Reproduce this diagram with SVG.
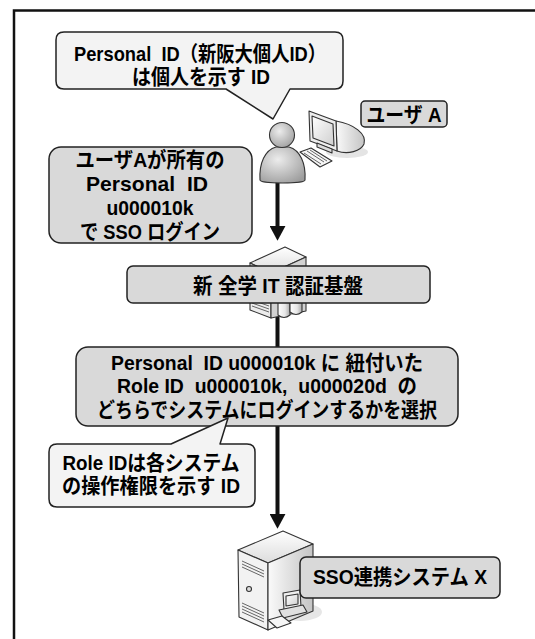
<svg xmlns="http://www.w3.org/2000/svg" width="535" height="639" viewBox="0 0 535 639">
<style>
  text { font-family: "Liberation Sans", "Noto Sans CJK JP", sans-serif; font-weight: bold; font-size: 21px; fill: #000; text-anchor: middle; white-space: pre; }
  .box { fill: #d9d9d9; stroke: #222; stroke-width: 1.5; }
  .note { fill: #f3f3f3; stroke: #222; stroke-width: 1.5; stroke-linejoin: round; }
  .wire { stroke: #111; stroke-width: 4; fill: none; }
  .frame { stroke: #111; stroke-width: 2.5; fill: none; }
  .edge { stroke: #333; stroke-width: 1.1; stroke-linejoin: round; }
  .thin { stroke: #555; stroke-width: 0.9; fill: none; }
</style>
<defs>
  <marker id="arrowhead" markerUnits="userSpaceOnUse" markerWidth="16" markerHeight="16" viewBox="0 0 15 15" refX="1" refY="7.5" orient="auto">
    <path d="M0,0 L14,7.5 L0,15 Z" fill="#111"/>
  </marker>
  <radialGradient id="personFill" cx="0.4" cy="0.35" r="0.75">
    <stop offset="0" stop-color="#ececec"/>
    <stop offset="1" stop-color="#9c9c9c"/>
  </radialGradient>
  <linearGradient id="metalSide" x1="0" y1="0" x2="1" y2="0">
    <stop offset="0" stop-color="#fafafa"/>
    <stop offset="1" stop-color="#c4c4c4"/>
  </linearGradient>
  <linearGradient id="metalTop" x1="0" y1="0" x2="0" y2="1">
    <stop offset="0" stop-color="#ffffff"/>
    <stop offset="1" stop-color="#dcdcdc"/>
  </linearGradient>
  <linearGradient id="screenFill" x1="0" y1="0" x2="1" y2="1">
    <stop offset="0" stop-color="#ffffff"/>
    <stop offset="1" stop-color="#cfcfcf"/>
  </linearGradient>
  <linearGradient id="drum" x1="0" y1="0" x2="1" y2="0">
    <stop offset="0" stop-color="#ffffff"/>
    <stop offset="0.6" stop-color="#e6e6e6"/>
    <stop offset="1" stop-color="#a8a8a8"/>
  </linearGradient>
</defs>

<!-- outer frame (top and left edges) -->
<path class="frame" d="M14,639 V10.5 H535"/>

<!-- connectors -->
<g id="connectors">
  <line class="wire" x1="277.5" y1="182" x2="277.5" y2="227" marker-end="url(#arrowhead)"/>
  <line class="wire" x1="277.5" y1="312" x2="277.5" y2="515" marker-end="url(#arrowhead)"/>
</g>

<!-- callout: Personal ID -->
<g id="note-personal-id">
  <path class="note" d="M64,32 H335 Q343,32 343,40 V81 Q343,89 335,89 H290 L273,119 L226,89 H64 Q56,89 56,81 V40 Q56,32 64,32 Z"/>
  <text x="200" y="61" textLength="252" lengthAdjust="spacingAndGlyphs" xml:space="preserve">Personal  ID（新阪大個人ID）</text>
  <text x="201" y="84" textLength="138" lengthAdjust="spacingAndGlyphs" xml:space="preserve">は個人を示す ID</text>
</g>

<!-- user A with workstation -->
<g id="user-a">
  <ellipse cx="347" cy="152" rx="21" ry="6" fill="#e4e4e4"/>
  <!-- CRT back -->
  <path class="edge" d="M336,121 C354,124 367,134 364,144 C361,151 348,155 337,151 Z" fill="url(#metalSide)"/>
  <!-- bezel -->
  <path class="edge" d="M309,111 L336,121 L337,151 L310,141 Z" fill="#ededed"/>
  <path class="edge" d="M312,116 L333,124 L334,146 L313,138 Z" fill="url(#screenFill)"/>
  <path class="edge" d="M317,143 L332,149 L332,153 L317,147 Z" fill="#dcdcdc"/>
  <!-- keyboard -->
  <path class="edge" d="M300,152 L311,148 L332,161 L320,167 Z" fill="#f6f6f6"/>
  <path class="thin" d="M304,153 L321,164 M307,151 L324,162 M310,150 L327,161"/>
  <!-- person -->
  <path class="edge" d="M260,180 C259,163 265,150 276,147 L289,147 C300,150 306,163 305,180 C305,184 260,184 260,180 Z" fill="url(#personFill)"/>
  <circle class="edge" cx="282" cy="135" r="12.5" fill="url(#personFill)"/>
  <rect class="box" x="361" y="101" width="86" height="26" rx="4"/>
  <text x="404" y="122" textLength="75" lengthAdjust="spacingAndGlyphs" xml:space="preserve">ユーザ A</text>
</g>

<!-- login box -->
<g id="sso-login">
  <rect class="box" x="49" y="147" width="203" height="96" rx="12"/>
  <text x="150" y="167" textLength="149" lengthAdjust="spacingAndGlyphs">ユーザAが所有の</text>
  <text x="147" y="191" textLength="122" lengthAdjust="spacingAndGlyphs" xml:space="preserve">Personal  ID</text>
  <text x="150" y="215" textLength="87" lengthAdjust="spacingAndGlyphs">u000010k</text>
  <text x="150" y="239" textLength="140" lengthAdjust="spacingAndGlyphs" xml:space="preserve">で SSO ログイン</text>
</g>

<!-- authentication platform server -->
<g id="auth-platform">
  <path class="edge" d="M250,263 L285,247 L306,257 L271,273 Z" fill="url(#metalTop)"/>
  <path class="edge" d="M250,263 L271,273 L271,318 L250,310 Z" fill="#ececec"/>
  <path class="edge" d="M271,273 L306,257 L306,311 L271,318 Z" fill="#d2d2d2"/>
  <path class="thin" d="M252,300 L269,306 M252,303 L269,309 M252,306 L269,312"/>
  <path class="edge" d="M278,290 H290 V315 Q284,320 278,315 Z" fill="url(#drum)"/>
  <path class="edge" d="M290,288 H302 V312 Q296,317 290,312 Z" fill="url(#drum)"/>
  <rect class="box" x="127" y="266" width="303" height="37" rx="6"/>
  <text x="278" y="293" textLength="170" lengthAdjust="spacingAndGlyphs" xml:space="preserve">新 全学 IT 認証基盤</text>
</g>

<!-- role selection box -->
<g id="role-select">
  <rect class="box" x="76" y="347" width="382" height="79" rx="12"/>
  <text x="267" y="370" textLength="312" lengthAdjust="spacingAndGlyphs" xml:space="preserve">Personal  ID u000010k に 紐付いた</text>
  <text x="267" y="393" textLength="300" lengthAdjust="spacingAndGlyphs" xml:space="preserve">Role ID  u000010k,  u000020d  の</text>
  <text x="267" y="417" textLength="340" lengthAdjust="spacingAndGlyphs">どちらでシステムにログインするかを選択</text>
</g>

<!-- callout: Role ID -->
<g id="note-role-id">
  <path class="note" d="M57,444 H171 L228,418 L220,444 H247 Q255,444 255,452 V499 Q255,507 247,507 H57 Q49,507 49,499 V452 Q49,444 57,444 Z"/>
  <text x="151" y="470" textLength="177" lengthAdjust="spacingAndGlyphs">Role IDは各システム</text>
  <text x="151" y="493" textLength="178" lengthAdjust="spacingAndGlyphs" xml:space="preserve">の操作権限を示す ID</text>
</g>

<!-- SSO linked system X -->
<g id="system-x">
  <ellipse cx="300" cy="612" rx="22" ry="9" fill="#e6e6e6"/>
  <path class="edge" d="M238,550 L283,531 L313,544 L268,563 Z" fill="url(#metalTop)"/>
  <path class="edge" d="M238,550 L268,563 L268,630 L239,617 Z" fill="#f2f2f2"/>
  <path class="edge" d="M268,563 L313,544 L313,611 L268,630 Z" fill="url(#metalSide)"/>
  <path class="thin" d="M242,561 L264,571 M242,564 L264,574 M242,567 L264,577"/>
  <circle class="edge" cx="249" cy="589" r="2.5" fill="#ddd"/>
  <path class="thin" d="M242,603 L264,613 M242,606 L264,616 M242,609 L264,619 M242,612 L264,622"/>
  <!-- small workstation -->
  <path class="edge" d="M283,593 L300,590 L301,607 L284,610 Z" fill="#eeeeee"/>
  <path class="edge" d="M286,596 L298,594 L298,604 L286,606 Z" fill="url(#screenFill)"/>
  <path class="edge" d="M279,610 L303,605 L307,612 L283,618 Z" fill="#e0e0e0"/>
  <path class="edge" d="M268,620 L282,616 L291,623 L277,628 Z" fill="#f6f6f6"/>
  <rect class="box" x="300" y="557" width="200" height="41" rx="6"/>
  <text x="400" y="584" textLength="174" lengthAdjust="spacingAndGlyphs" xml:space="preserve">SSO連携システム X</text>
</g>
</svg>
